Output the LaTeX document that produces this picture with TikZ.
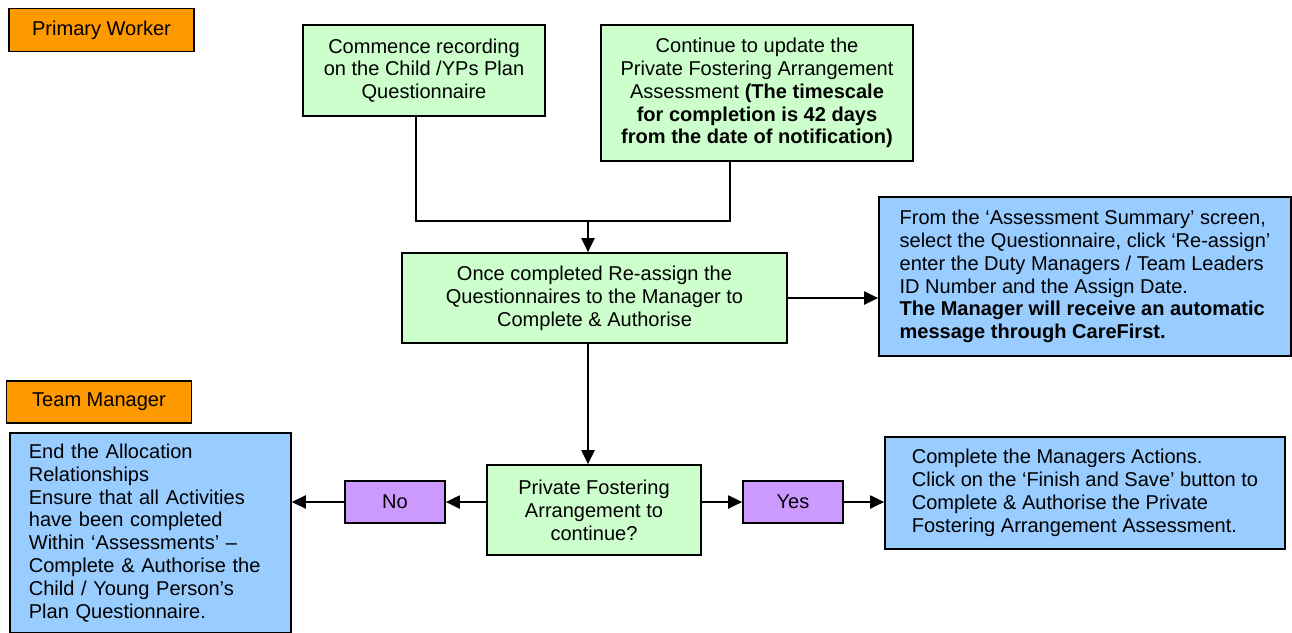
\documentclass[tikz,border=0pt]{standalone}
\usepackage{fontspec}
\setmainfont{Liberation Sans}
\usepackage{tikz}
\usetikzlibrary{arrows.meta,positioning}
\definecolor{rolecol}{HTML}{FF9900}
\definecolor{stepcol}{HTML}{CCFFCC}
\definecolor{notecol}{HTML}{99CCFF}
\definecolor{answercol}{HTML}{CC99FF}
\tikzstyle{role} = [rectangle, minimum width=3.7cm, minimum height=0.86cm, text centered, draw=black, line width=1pt, fill=rolecol]
\tikzstyle{process} = [rectangle, text centered, align=center, draw=black, line width=1pt, fill=stepcol]
\tikzstyle{note} = [rectangle, align=left, draw=black, line width=1pt, fill=notecol]
\tikzstyle{answer} = [rectangle, minimum width=2cm, minimum height=0.84cm, text centered, draw=black, line width=1pt, fill=answercol]
\tikzstyle{arrow} = [line width=1pt,-{Triangle[length=8pt,width=7.5pt]}]
\tikzstyle{line} = [line width=1pt]

\begin{document}
\begin{tikzpicture}[font=\fontsize{11.4}{13}\selectfont]
\useasboundingbox (0,0) rectangle (25.84,-12.64);

\node (pw) [role] at (2.03,-0.60) {Primary Worker};
\node (tm) [role, minimum height=0.84cm] at (1.98,-8.04) {Team Manager};

\node (commence) [process, minimum width=4.84cm, minimum height=1.82cm] at (8.48,-1.41) {Commence recording\\on the Child /YPs Plan\\Questionnaire};
\node (cont) [process, minimum width=6.24cm, minimum height=2.72cm] at (15.14,-1.86) {Continue to update the\\Private Fostering Arrangement\\Assessment \textbf{(The timescale}\\\textbf{for completion is 42 days}\\\textbf{from the date of notification)}};
\node (once) [process, minimum width=7.70cm, minimum height=1.80cm] at (11.89,-5.96) {Once completed Re-assign the\\Questionnaires to the Manager to\\Complete \& Authorise};
\node (reassign) [note, minimum width=8.24cm, minimum height=3.18cm] at (21.70,-5.53) {From the ‘Assessment Summary’ screen,\\select the Questionnaire, click ‘Re-assign’\\enter the Duty Managers / Team Leaders\\ID Number and the Assign Date.\\\textbf{The Manager will receive an automatic}\\\textbf{message through CareFirst.}};
\node (private) [process, minimum width=4.28cm, minimum height=1.80cm] at (11.88,-10.20) {Private Fostering\\Arrangement to\\continue?};
\node (yes) [answer] at (15.86,-10.04) {Yes};
\node (no) [answer] at (7.90,-10.04) {No};
\node (finish) [note, minimum width=8.00cm, minimum height=2.24cm] at (21.70,-9.86) {Complete the Managers Actions.\\Click on the ‘Finish and Save’ button to\\Complete \& Authorise the Private\\Fostering Arrangement Assessment.};
\node (endalloc) [note, anchor=north west, minimum width=5.62cm, text width=4.86cm, inner ysep=0.22cm] at (0.18,-8.64) {End the Allocation\\Relationships\\Ensure that all Activities\\have been completed\\Within ‘Assessments’ –\\Complete \& Authorise the\\Child / Young Person’s\\Plan Questionnaire.};

\coordinate (j1) at (8.32,-4.42);
\coordinate (j2) at (14.60,-4.42);
\coordinate (jm) at (11.76,-4.42);

\draw [line] (commence.south -| j1) -- (j1) -- (j2) -- (cont.south -| j2);
\draw [arrow] (jm) -- (jm |- once.north);
\draw [arrow] (once.east) -- (once.east -| reassign.west);
\draw [arrow] (once.south -| jm) -- (private.north -| jm);
\draw [arrow] (yes.west -| private.east) -- (yes.west);
\draw [arrow] (yes.east) -- (yes.east -| finish.west);
\draw [arrow] (no.east -| private.west) -- (no.east);
\draw [arrow] (no.west) -- (no.west -| endalloc.east);

\end{tikzpicture}
\end{document}
